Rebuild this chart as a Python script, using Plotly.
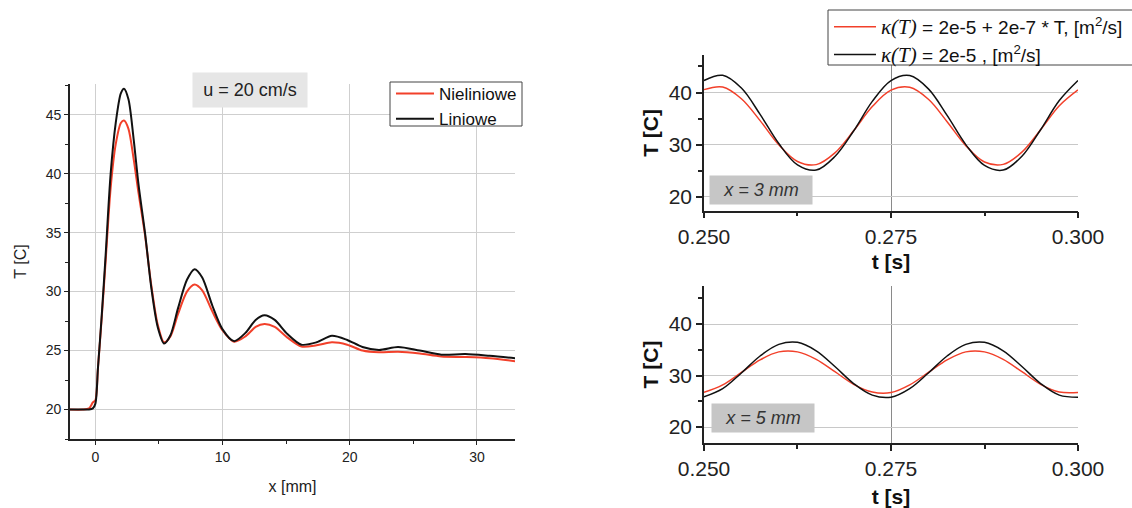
import plotly.graph_objects as go

# ---------------- data: left panel (T along x, u = 20 cm/s) ----------------
x_mm = [-2, -1, -0.5, -0.2, 0, 0.2, 0.5, 0.8, 1.2, 1.6, 2.0, 2.25, 2.6, 3.0, 3.4, 3.9,
        4.4, 4.9, 5.4, 5.9, 6.5, 7.2, 7.8, 8.4, 9.2, 10.0, 10.9, 11.8, 12.6, 13.3, 14.1,
        15.1, 16.2, 17.4, 18.6, 19.8, 21.0, 22.3, 23.8, 25.5, 27.2, 29.1, 31.0, 33.0]
T_linear = [20.0, 20.0, 20.0, 20.1, 20.5, 23.5, 28.0, 33.0, 40.0, 44.3, 46.8, 47.2, 46.3,
            43.0, 39.0, 35.0, 30.3, 27.0, 25.6, 26.3, 28.6, 31.0, 31.9, 31.2, 28.8, 26.8,
            25.8, 26.5, 27.6, 28.0, 27.6, 26.4, 25.5, 25.7, 26.25, 25.9, 25.3, 25.05, 25.3,
            25.0, 24.65, 24.7, 24.55, 24.35]
T_nonlinear = [20.0, 20.0, 20.1, 20.6, 20.8, 23.5, 27.8, 32.5, 38.8, 42.5, 44.3, 44.5, 43.8,
               41.3, 38.3, 34.8, 30.5, 27.2, 25.7, 26.2, 28.1, 30.0, 30.6, 30.1, 28.3, 26.7,
               25.75, 26.2, 27.0, 27.25, 27.0, 26.1, 25.35, 25.45, 25.7, 25.5, 25.0, 24.85,
               24.9, 24.75, 24.5, 24.45, 24.35, 24.1]

# ---------------- data: right panels (T over time) ----------------
t_s = [0.2500, 0.2525, 0.2550, 0.2575, 0.2600, 0.2625, 0.2650, 0.2675, 0.2700, 0.2725,
       0.2750, 0.2775, 0.2800, 0.2825, 0.2850, 0.2875, 0.2900, 0.2925, 0.2950, 0.2975, 0.3000]
T3_const = [42.3, 43.3, 40.85, 35.8, 30.2, 26.1, 25.1, 27.7, 32.6, 38.3, 42.3,
            43.25, 40.7, 35.6, 30.0, 26.0, 25.1, 27.75, 32.85, 38.45, 42.3]
T3_var = [40.55, 41.05, 38.8, 34.6, 29.95, 26.75, 26.15, 28.4, 32.65, 37.3, 40.45,
          41.0, 38.7, 34.4, 29.8, 26.65, 26.2, 28.55, 32.85, 37.45, 40.5]
T5_const = [25.85, 27.45, 30.5, 33.8, 36.05, 36.45, 34.8, 31.75, 28.45, 26.2, 25.8,
            27.45, 30.5, 33.8, 36.05, 36.45, 34.8, 31.75, 28.45, 26.2, 25.8]
T5_var = [26.75, 28.2, 30.6, 33.05, 34.6, 34.6, 33.15, 30.75, 28.3, 26.8, 26.7,
          28.2, 30.6, 33.05, 34.6, 34.6, 33.15, 30.75, 28.3, 26.8, 26.7]

x_ticks = [0, 10, 20, 30]
T_ticks_left = [20, 25, 30, 35, 40, 45]
t_ticks = [0.250, 0.275, 0.300]
t_ticklabels = ["0.250", "0.275", "0.300"]
T_ticks_right = [20, 30, 40]

RED = "#f2402a"
BLACK = "#111111"
FONT = "Liberation Sans, Arial, sans-serif"
KAPPA = "<span style='font-family:Liberation Serif;font-size:21px'><i>κ(T)</i></span>"

fig = go.Figure()

# left panel
fig.add_trace(go.Scatter(x=x_mm, y=T_nonlinear, mode="lines", name="Nieliniowe",
                         line=dict(color=RED, width=2, shape="spline", smoothing=0.8),
                         xaxis="x", yaxis="y", legend="legend"))
fig.add_trace(go.Scatter(x=x_mm, y=T_linear, mode="lines", name="Liniowe",
                         line=dict(color=BLACK, width=2, shape="spline", smoothing=0.8),
                         xaxis="x", yaxis="y", legend="legend"))

# top right
fig.add_trace(go.Scatter(x=t_s, y=T3_var, mode="lines",
                         name=KAPPA + " = 2e-5 + 2e-7 * T, [m<sup>2</sup>/s]",
                         line=dict(color=RED, width=1.5, shape="spline"),
                         xaxis="x2", yaxis="y2", legend="legend2"))
fig.add_trace(go.Scatter(x=t_s, y=T3_const, mode="lines",
                         name=KAPPA + " = 2e-5 , [m<sup>2</sup>/s]",
                         line=dict(color=BLACK, width=1.5, shape="spline"),
                         xaxis="x2", yaxis="y2", legend="legend2"))
# bottom right
fig.add_trace(go.Scatter(x=t_s, y=T5_var, mode="lines", showlegend=False,
                         line=dict(color=RED, width=1.5, shape="spline"),
                         xaxis="x3", yaxis="y3"))
fig.add_trace(go.Scatter(x=t_s, y=T5_const, mode="lines", showlegend=False,
                         line=dict(color=BLACK, width=1.5, shape="spline"),
                         xaxis="x3", yaxis="y3"))

left_x = dict(domain=[0.0618, 0.4550], range=[-2, 33], tickvals=x_ticks, automargin=False,
              showline=True, linecolor="#222", linewidth=1.5,
              ticks="outside", ticklen=4, tickcolor="#222", tickwidth=1.2,
              minor=dict(dtick=5, tick0=0, ticks="outside", ticklen=3, tickcolor="#222", showgrid=False),
              showgrid=True, gridcolor="#cfcfcf", gridwidth=1, zeroline=False,
              tickfont=dict(size=14, color="#222", family=FONT),
              title=dict(text="x [mm]", font=dict(size=16, color="#222", family=FONT), standoff=17),
              anchor="y")
left_y = dict(domain=[0.1358, 0.8346], range=[17.5, 47.6], tickvals=T_ticks_left, automargin=False,
              showline=True, linecolor="#222", linewidth=1.5,
              ticks="outside", ticklen=4, tickcolor="#222", tickwidth=1.2,
              minor=dict(dtick=2.5, tick0=0, ticks="outside", ticklen=3, tickcolor="#222", showgrid=False),
              showgrid=True, gridcolor="#cfcfcf", gridwidth=1, zeroline=False,
              tickfont=dict(size=14, color="#222", family=FONT),
              title=dict(text="T [C]", font=dict(size=16, color="#222", family=FONT), standoff=15),
              anchor="x")


def right_x(dom_anchor, standoff):
    return dict(domain=[0.6219, 0.9523], range=[0.25, 0.30], tickvals=t_ticks, automargin=False,
                ticktext=t_ticklabels, showline=True, linecolor="#222", linewidth=1.5,
                ticks="outside", ticklen=6, tickcolor="#222", tickwidth=1.5,
                minor=dict(dtick=0.0125, tick0=0.25, ticks="outside", ticklen=4,
                           tickcolor="#222", showgrid=False),
                showgrid=True, gridcolor="#8a8a8a", gridwidth=1, zeroline=False,
                tickfont=dict(size=21, color="#222", family=FONT),
                title=dict(text="<b>t [s]</b>", font=dict(size=21, color="#111", family=FONT),
                           standoff=standoff),
                anchor=dom_anchor)


def right_y(domain, rng, dom_anchor):
    return dict(domain=domain, range=rng, tickvals=T_ticks_right, automargin=False,
                showline=True, linecolor="#222", linewidth=1.5,
                ticks="outside", ticklen=6, tickcolor="#222", tickwidth=1.5,
                minor=dict(dtick=5, tick0=0, ticks="outside", ticklen=4, tickcolor="#222", showgrid=False),
                showgrid=True, gridcolor="#c8c8c8", gridwidth=1, zeroline=False,
                tickfont=dict(size=21, color="#222", family=FONT),
                title=dict(text="<b>T [C]</b>", font=dict(size=21, color="#111", family=FONT), standoff=4),
                anchor=dom_anchor)


W, H = 1132, 508


def px_x(v):
    return v / W


def px_y(v):
    return 1 - v / H


fig.update_layout(
    width=W, height=H,
    margin=dict(l=0, r=0, t=0, b=0, autoexpand=False),
    paper_bgcolor="white", plot_bgcolor="white",
    font=dict(family=FONT, color="#222"),
    xaxis=left_x, yaxis=left_y,
    xaxis2=right_x("y2", 8), yaxis2=right_y([0.5852, 0.8917], [17.3, 47.2], "x2"),
    xaxis3=right_x("y3", 12), yaxis3=right_y([0.1280, 0.4370], [16.9, 47.4], "x3"),
    legend=dict(x=px_x(391), y=px_y(76), xanchor="left", yanchor="top",
                bgcolor="rgba(0,0,0,0)", borderwidth=0, itemwidth=38,
                font=dict(size=17, color="#111", family=FONT),
                tracegroupgap=0, traceorder="normal"),
    legend2=dict(x=px_x(829), y=px_y(8), xanchor="left", yanchor="top",
                 bgcolor="rgba(0,0,0,0)", borderwidth=0, itemwidth=42,
                 font=dict(size=19, color="#111", family=FONT),
                 tracegroupgap=0, traceorder="normal"),
    shapes=[
        # legend frames
        dict(type="rect", xref="paper", yref="paper", layer="above",
             x0=px_x(390), x1=px_x(522), y0=px_y(126), y1=px_y(82),
             line=dict(color="#444", width=1), fillcolor="white"),
        dict(type="rect", xref="paper", yref="paper", layer="above",
             x0=px_x(828), x1=px_x(1145), y0=px_y(65), y1=px_y(10),
             line=dict(color="#444", width=1), fillcolor="white"),
    ],
    annotations=[
        dict(text="u = 20 cm/s", xref="paper", yref="paper", x=px_x(250), y=px_y(90),
             xanchor="center", yanchor="middle",
             showarrow=False, bgcolor="#e6e6e6", width=110, height=30, borderpad=2,
             font=dict(size=18, color="#222", family=FONT)),
        dict(text="<i>x = 3 mm</i>", xref="paper", yref="paper", x=px_x(761), y=px_y(190),
             xanchor="center", yanchor="middle",
             showarrow=False, bgcolor="#c6c6c6", width=98, height=24, borderpad=2,
             font=dict(size=18, color="#333", family=FONT)),
        dict(text="<i>x = 5 mm</i>", xref="paper", yref="paper", x=px_x(763), y=px_y(418),
             xanchor="center", yanchor="middle",
             showarrow=False, bgcolor="#c6c6c6", width=98, height=24, borderpad=2,
             font=dict(size=18, color="#333", family=FONT)),
    ],
)

fig.write_html("out.html", config={"displayModeBar": False},
               post_script="document.body.style.margin='0px';")
